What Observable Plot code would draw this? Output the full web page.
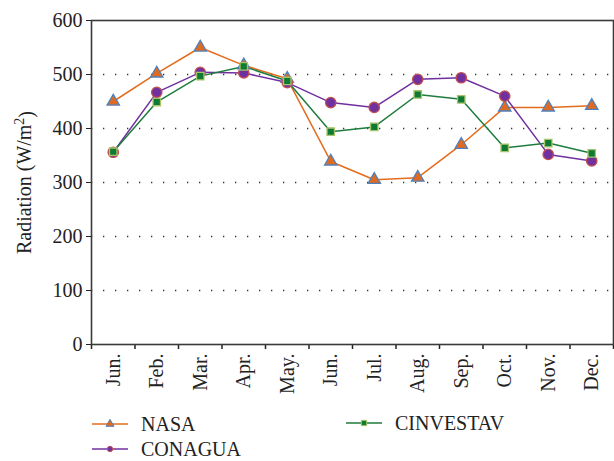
<!DOCTYPE html>
<html><head><meta charset="utf-8">
<script src="https://cdn.jsdelivr.net/npm/d3@7"></script>
<script src="https://cdn.jsdelivr.net/npm/@observablehq/plot@0.6"></script>
<style>
body{margin:0;background:#fff;font-family:"Liberation Serif",serif;}
#wrap{position:relative;width:614px;height:461px;}
.leg{position:absolute;display:flex;align-items:center;font-size:20px;color:#222;height:24px;}
.leg svg{display:block;margin-right:13px;}
</style></head><body><div id="wrap"><div id="chart"></div></div><script>
const months = ["Jun.","Feb.","Mar.","Apr.","May.","Jun.","Jul.","Aug.","Sep.","Oct.","Nov.","Dec."];
const nasa = [450,502,550,517,492,339,305,309,370,439,439,442];
const conagua = [356,467,504,503,485,448,439,491,494,460,352,340];
const cinvestav = [357,449,497,515,488,394,403,463,454,364,373,354];
const yTicks = [0,100,200,300,400,500,600];
const gridTicks = [100,200,300,400,500];

const series = [
  {name:"NASA", values:nasa, line:"#e36c1c", fill:"#df6a22", stroke:"#4f81bd", symbol:"triangle", r:4.6},
  {name:"CONAGUA", values:conagua, line:"#7030a0", fill:"#7030a0", stroke:"#c0504d", symbol:"circle", r:5.2},
  {name:"CINVESTAV", values:cinvestav, line:"#1e7d3e", fill:"#0f7a33", stroke:"#a8c46a", symbol:"square", r:4.2}
];
const rows = series.flatMap(s => s.values.map((v,i) => ({x:i+0.5, v, name:s.name})));

const marks = [
  Plot.gridY(gridTicks, {stroke:"#333", strokeOpacity:1, strokeWidth:1.3, strokeDasharray:"1.3,10.7"}),
  Plot.axisY(yTicks, {tickSize:5, tickPadding:4, fontSize:20, label:"Radiation (W/m2)", labelAnchor:"center", labelArrow:"none", labelOffset:75}),
  Plot.axisX(d3.range(0,13), {tickSize:5, text:null, label:null, strokeWidth:1.5}),
  Plot.axisX(d3.range(12).map(i=>i+0.5), {tickSize:0, tickRotate:-90, tickPadding:9, fontSize:20, tickFormat: d => months[d-0.5], label:null}),
  Plot.frame({stroke:"#3a3a3a", strokeWidth:1.6})
];
for (const s of series) {
  const d = rows.filter(r => r.name === s.name);
  marks.push(Plot.line(d, {x:"x", y:"v", stroke:s.line, strokeWidth:1.5}));
}
for (const s of series) {
  const d = rows.filter(r => r.name === s.name);
  marks.push(Plot.dot(d, {x:"x", y:"v", symbol:s.symbol, r:s.r, fill:s.fill, stroke:s.stroke, strokeWidth:1.3}));
}

const chart = Plot.plot({
  width:614, height:400,
  marginTop:20, marginLeft:91, marginRight:1, marginBottom:56,
  style:{fontFamily:"Liberation Serif, serif", fontSize:"20px", color:"#222", background:"#fff"},
  x:{type:"linear", domain:[0,12]},
  y:{domain:[0,600]},
  marks
});
document.getElementById("chart").appendChild(chart);

// superscript in y label
d3.select(chart).selectAll("text").filter(function(){ return this.textContent === "Radiation (W/m2)"; })
  .each(function(){
    const t = d3.select(this);
    t.text("");
    t.append("tspan").text("Radiation (W/m");
    t.append("tspan").attr("dy","-0.45em").attr("font-size","14px").text("2");
    t.append("tspan").attr("dy","0.45em").text(")");
  });

// legend
const wrap = document.getElementById("wrap");
const legPos = [[92,412],[92,437],[346,411]];
series.forEach((s,j) => {
  const div = document.createElement("div");
  div.className = "leg";
  div.style.left = legPos[j][0] + "px";
  div.style.top = legPos[j][1] + "px";
  const sym = d3.symbol(s.symbol === "triangle" ? d3.symbolTriangle : s.symbol === "circle" ? d3.symbolCircle : d3.symbolSquare, s.symbol === "circle" ? 40 : 50)();
  div.innerHTML = `<svg width="36" height="24"><line x1="0" x2="36" y1="12" y2="12" stroke="${s.line}" stroke-width="1.6"/><path transform="translate(18,12) scale(0.75)" d="${sym}" fill="${s.fill}" stroke="${s.stroke}" stroke-width="1.3"/></svg><span>${s.name}</span>`;
  wrap.appendChild(div);
});
</script></body></html>
